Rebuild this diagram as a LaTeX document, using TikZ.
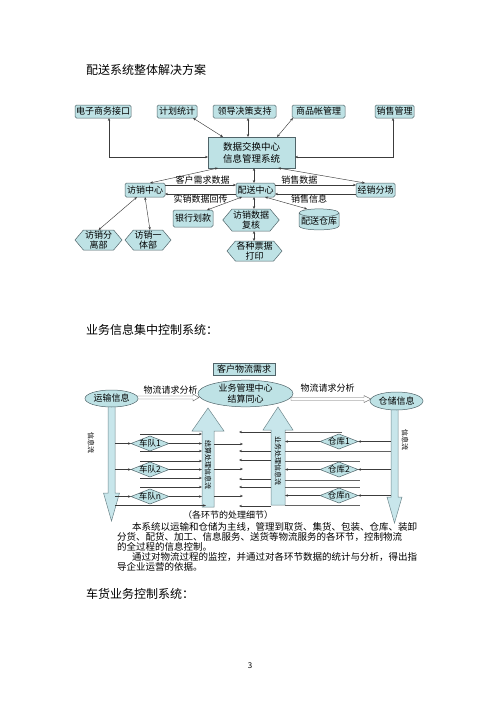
\documentclass[tikz,border=0pt]{standalone}
\usepackage{fontspec}
\setmainfont{Noto Sans CJK SC}
\usetikzlibrary{shapes.geometric,shapes.symbols,arrows.meta,calc,backgrounds}
\definecolor{boxfill}{RGB}{190,226,229}
\definecolor{boxline}{RGB}{80,100,105}
\definecolor{arrfill}{RGB}{200,230,235}
\definecolor{arrline}{RGB}{110,135,140}
\definecolor{lin}{RGB}{60,60,60}
\newcommand\myfs[2]{\fontsize{#1}{#2}\selectfont}
\begin{document}
\begin{tikzpicture}[x=1pt,y=-1pt,
  every node/.style={inner sep=0pt, outer sep=0pt},
  tbox/.style={draw=boxline, fill=boxfill, line width=0.5pt, rounded corners=1.5pt, font=\myfs{9pt}{10pt}, minimum height=13pt},
  hexa/.style={shape=signal, signal to=east and west, signal pointer angle=100, draw=boxline, fill=boxfill, line width=0.5pt, font=\myfs{9pt}{9.5pt}, align=center, inner xsep=1pt, inner ysep=1pt},
  cyl/.style={shape=cylinder, shape border rotate=90, aspect=0.22, draw=boxline, fill=boxfill, line width=0.5pt, font=\myfs{9pt}{10pt}},
  ell/.style={ellipse, draw=boxline, fill=boxfill, line width=0.5pt, font=\myfs{9pt}{10pt}},
  dia/.style={diamond, draw=boxline, fill=boxfill, line width=0.5pt, minimum width=38pt, minimum height=15pt},
  dtext/.style={font=\myfs{8.5pt}{9pt}},
  conn/.style={draw=lin, line width=0.45pt, {Stealth[length=3pt,width=2.4pt]}-{Stealth[length=3pt,width=2.4pt]}},
  oneway/.style={draw=lin, line width=0.45pt, -{Stealth[length=3pt,width=2.4pt]}},
  plain/.style={draw=lin!80, line width=0.45pt},
  lbl/.style={font=\myfs{9pt}{10pt}},
  hol/.style={draw=gray!80!black, fill=white, line width=0.45pt},
  bigarr/.style={draw=arrline, fill=arrfill, line width=0.5pt},
  vtext/.style={rotate=-90, font=\myfs{7pt}{7pt}},
  head/.style={font=\myfs{12pt}{13pt}, anchor=west},
  para/.style={font=\myfs{9.5pt}{10pt}, anchor=west}
]
\useasboundingbox (0,0) rectangle (500,707);

% ---------- headers ----------
\node[head] (h1) at (86,70) {配送系统整体解决方案};
\node[head] (h2) at (86,330) {业务信息集中控制系统：};
\node[head] (h3) at (86,594) {车货业务控制系统：};

% ---------- top diagram ----------
\node[tbox, minimum width=56pt] (b1) at (103,111.5) {电子商务接口};
\node[tbox, minimum width=40pt] (b2) at (177,111.5) {计划统计};
\node[tbox, minimum width=63pt] (b3) at (244.5,111.5) {领导决策支持};
\node[tbox, minimum width=53pt] (b4) at (318.5,111.5) {商品帐管理};
\node[tbox, minimum width=39pt] (b5) at (394.5,111.5) {销售管理};
\node[tbox, rounded corners=0pt, minimum width=87pt, minimum height=31pt, align=center, font=\myfs{9.5pt}{12pt}] (dc) at (251.5,152.5) {数据交换中心\\信息管理系统};

\node[tbox, minimum width=40pt, minimum height=14pt] (fx) at (145,190) {访销中心};
\node[tbox, minimum width=39pt, minimum height=14pt] (ps) at (255.5,190) {配送中心};
\node[tbox, minimum width=39pt, minimum height=14pt] (jx) at (375.5,190) {经销分场};
\node[tbox, minimum width=40pt, minimum height=17pt] (yh) at (193,218.5) {银行划款};
\node[hexa, minimum width=56pt, minimum height=22pt] (fh) at (251,220) {访销数据\\复核};
\node[cyl, minimum width=40pt, minimum height=21pt] (ck) at (319,221.5) {配送仓库};
\node[hexa, minimum width=55pt, minimum height=20pt] (pj) at (254.5,251) {各种票据\\打印};
\node[hexa, minimum width=47pt, minimum height=20pt] (fl) at (98.5,240) {访销分\\离部};
\node[hexa, minimum width=46pt, minimum height=20pt] (yt) at (148,240) {访销一\\体部};

\draw[conn] ([xshift=6pt]b1.south) |- ([yshift=-4.5pt]dc.west);
\draw[conn] ([xshift=-1.5pt]b5.south) |- ([yshift=-4.5pt]dc.east);
\draw[conn] ([xshift=16pt]b2.south) -- ([xshift=-28.5pt]dc.north);
\draw[conn] ([xshift=3.5pt]b3.south) -- ([xshift=-3.5pt]dc.north);
\draw[conn] ([xshift=-25.5pt]b4.south) -- ([xshift=25.5pt]dc.north);
\draw[conn] ([xshift=-33.5pt]dc.south) -- ([xshift=5pt]fx.north);
\draw[conn] ([xshift=2.5pt]dc.south) -- ([xshift=-1.5pt]ps.north);
\draw[conn] ([xshift=26.5pt]dc.south) -- ([xshift=-10.5pt]jx.north);

\draw[oneway] ([yshift=5pt]fx.east) -- node[lbl, above=1pt, pos=0.53] (lb1) {客户需求数据} ([yshift=5pt]ps.west);
\draw[oneway] ([yshift=-4pt]ps.west) -- node[lbl, below=1pt, pos=0.5] (lb2) {实销数据回传} ([yshift=-4pt]fx.east);
\draw[oneway] ([yshift=5pt]ps.east) -- node[lbl, above=1pt, pos=0.3] (lb3) {销售数据} ([yshift=5pt]jx.west);
\draw[oneway] ([yshift=-4pt]jx.west) -- node[lbl, below=1pt, pos=0.58] (lb4) {销售信息} ([yshift=-4pt]ps.east);

\draw[conn] ([xshift=-13.5pt]ps.south) -- ([xshift=14pt]yh.north);
\draw[conn] ([xshift=-1.5pt]ps.south) -- ([xshift=3pt]fh.north);
\draw[conn] ([xshift=9.5pt]ps.south) -- ([xshift=-12pt]ck.north);
\draw[conn] ([xshift=3pt]fh.south) -- ([xshift=-0.5pt]pj.north);
\draw[conn] ([xshift=-8pt]fx.south) -- (fl.north);
\draw[conn] (fx.south) -- ([xshift=2pt]yt.north);

% ---------- middle diagram ----------
\node[tbox, rounded corners=0pt, minimum width=62pt, minimum height=12pt] (kh) at (244,369) {客户物流需求};
\node[ell, minimum width=95pt, minimum height=23pt, align=center, font=\myfs{9pt}{10.5pt}] (yw) at (245.5,393.5) {业务管理中心\\结算同心};
\node[ell, minimum width=53pt, minimum height=17pt] (ys) at (111.5,398.5) {运输信息};
\node[ell, minimum width=53pt, minimum height=18pt] (cc) at (396.5,401) {仓储信息};

\coordinate (lsh) at (115,450);
\coordinate (lbg) at (202,450);
\coordinate (rbg) at (285,450);
\coordinate (rsh) at (391,450);

\begin{scope}[on background layer]
\draw[hol] ($(ys.east)+(-2,-2.5)$) -- ($(yw.west)+(-5,2.5)$) -- ($(yw.west)+(-5,0.5)$) -- ($(yw.west)+(1,4)$) -- ($(yw.west)+(-5,7.5)$) -- ($(yw.west)+(-5,5.5)$) -- ($(ys.east)+(-2,0.5)$) -- cycle;
\draw[hol] ($(yw.east)+(-2,4)$) -- ($(cc.west)+(-6,-3.5)$) -- ($(cc.west)+(-6,-5.5)$) -- ($(cc.west)+(1,-2)$) -- ($(cc.west)+(-6,1.5)$) -- ($(cc.west)+(-6,-0.5)$) -- ($(yw.east)+(-2,7)$) -- cycle;
\draw[bigarr] ($(ys.south)+(-3.5,-3)$) -- ($(ys.south)+(-3.5,86)$) -- ($(ys.south)+(-8,86)$) -- ($(ys.south)+(0,114)$) -- ($(ys.south)+(8,86)$) -- ($(ys.south)+(3.5,86)$) -- ($(ys.south)+(3.5,-3)$) -- cycle;
\draw[bigarr] ($(cc.south)+(-5.5,-3)$) -- ($(cc.south)+(-5.5,87)$) -- ($(cc.south)+(-9.5,87)$) -- ($(cc.south)+(-2,113)$) -- ($(cc.south)+(5.5,87)$) -- ($(cc.south)+(1.5,87)$) -- ($(cc.south)+(1.5,-3)$) -- cycle;
\end{scope}

\node[lbl] (l1) at (170.5,390) {物流请求分析};
\node[lbl] (l2) at (327.5,388.5) {物流请求分析};

% big up arrows
\draw[bigarr] (202,507) -- (202,431) -- (192,431) -- (208,408) -- (224,431) -- (214,431) -- (214,507) -- cycle;
\draw[bigarr] (271,505) -- (271,430) -- (263,430) -- (278,407) -- (293,430) -- (285,430) -- (285,505) -- cycle;
\node[vtext] (t1) at (208,465) {结算处理信息流};
\node[vtext] (t2) at (278,461) {业务处理信息流};
\node[vtext] (t3) at (91,442.5) {信息流};
\node[vtext] (t4) at (405,440) {信息流};

% diamonds
\node[dia, label={[dtext]center:车队1}] (cd1) at (150,443.5) {};
\node[dia, label={[dtext]center:车队2}] (cd2) at (150,469.5) {};
\node[dia, label={[dtext]center:车队n}] (cd3) at (150,496.5) {};
\node[dia, label={[dtext]center:仓库1}] (wd1) at (339,441.5) {};
\node[dia, label={[dtext]center:仓库2}] (wd2) at (339,469.5) {};
\node[dia, label={[dtext]center:仓库n}] (wd3) at (339,495.5) {};

\foreach \n in {1,2,3} {
  \draw[oneway] (cd\n -| lsh) -- (cd\n.west);
  \draw[oneway] (cd\n.east) -- (cd\n -| lbg);
  \draw[oneway] (wd\n -| rsh) -- (wd\n.east);
  \draw[oneway] (wd\n.west) -- (wd\n -| rbg);
}
\foreach \y in {434,451,461,478,487} \draw[oneway] (140,\y) -- (202,\y);
\draw[oneway] (115,505.5) -- (206,505.5);
\draw[plain] (285,432) -- (342,432);
\draw[plain] (285,451) -- (391,451);
\foreach \y in {461,480,487,505} \draw[plain] (285,\y) -- (360,\y);
\foreach \y in {432,451,460,479,487,506} \draw[oneway] (271,\y) -- (239,\y);
\foreach \y in {444,469,496} \draw[oneway] (214,\y) -- (243,\y);

\node[font=\myfs{9pt}{10pt}] (cap) at (228,515) {（各环节的处理细节）};

% ---------- paragraph ----------
\node[para] (p1) at (132,527) {本系统以运输和仓储为主线，管理到取货、集货、包装、仓库、装卸};
\node[para] (p2) at (117,537) {分货、配货、加工、信息服务、送货等物流服务的各环节，控制物流};
\node[para] (p3) at (117,546.5) {的全过程的信息控制。};
\node[para] (p4) at (132,557) {通过对物流过程的监控，并通过对各环节数据的统计与分析，得出指};
\node[para] (p5) at (117,567) {导企业运营的依据。};

\node[font=\myfs{8pt}{9pt}] (pg) at (250,666) {3};
\end{tikzpicture}
\end{document}
